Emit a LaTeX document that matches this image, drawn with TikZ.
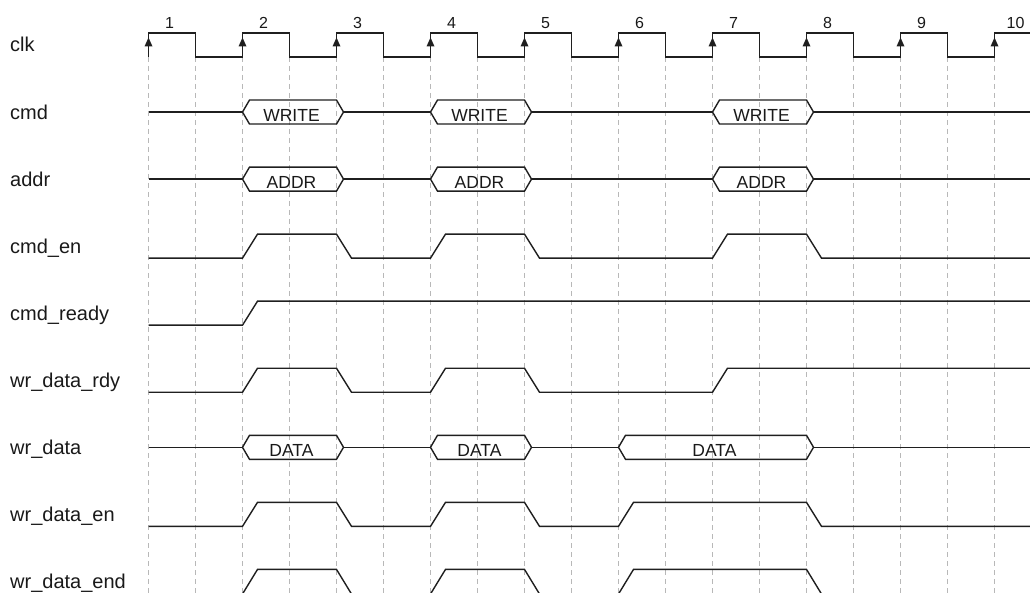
\documentclass[tikz,border=0pt]{standalone}
\usepackage{fontspec}
\setmainfont{Liberation Sans}
\def\ex#1{148.5+94*(#1-1)}
\tikzset{
  sig/.style={line width=1.4pt, draw=black!88, line join=miter},
  gridline/.style={draw=black!28, dash pattern=on 5pt off 4pt, line width=0.9pt},
  lbl/.style={anchor=base west, font=\fontsize{20}{24}\selectfont, inner sep=0pt, text=black!90},
  bustext/.style={anchor=base, font=\fontsize{17.5}{20}\selectfont, inner sep=0pt, text=black!90},
  num/.style={anchor=base, font=\fontsize{16}{18}\selectfont, inner sep=0pt, text=black!90},
  arr/.style={fill=black!88, draw=none},
}
\newcommand\busseg[5]{%
  \draw[sig] ({\ex{#1}},#3) -- ({\ex{#1}+7},#3-12) -- ({\ex{#2}},#3-12) -- ({\ex{#2}+7},#3)
     -- ({\ex{#2}},#3+12) -- ({\ex{#1}+7},#3+12) -- cycle;
  \node[bustext] (#5) at ({(\ex{#1}+\ex{#2})/2+2},#3+9.5) {#4};
}
\begin{document}
\begin{tikzpicture}[x=1pt,y=-1pt]
\useasboundingbox (0,0) rectangle (1030,593);
\clip (0,0) rectangle (1030,593);
% grid
\foreach \k in {0,...,18} \draw[gridline] ({148.5+47*\k},57) -- ({148.5+47*\k},593);
% labels
\node[lbl] (lclk) at (10,52) {clk};
\node[lbl] (lcmd) at (10,119.05) {cmd};
\node[lbl] (laddr) at (10,186.1) {addr};
\node[lbl] (lcmden) at (10,253.15) {cmd\_en};
\node[lbl] (lcmdready) at (10,320.2) {cmd\_ready};
\node[lbl] (lwrrdy) at (10,387.25) {wr\_data\_rdy};
\node[lbl] (lwrdata) at (10,454.3) {wr\_data};
\node[lbl] (lwren) at (10,521.35) {wr\_data\_en};
\node[lbl] (lwrend) at (10,588.4) {wr\_data\_end};
% clock
\draw[sig] (148.5,57) \foreach \k in {1,...,9} { -- ({\ex\k},33) -- ({\ex\k+47},33) -- ({\ex\k+47},57) -- ({\ex\k+94},57) } -- (994.5,33) -- (1030,33);
\foreach \k in {1,...,10} {
  \fill[arr] ({\ex\k},37.5) -- ({\ex\k-4},46.5) -- ({\ex\k+4},46.5) -- cycle;
  \node[num] (n\k) at ({\ex\k+21},29) {\k};
}
% cmd
\draw[sig] (148.5,112.05) -- ({\ex2},112.05);
\draw[sig] ({\ex3+7},112.05) -- ({\ex4},112.05);
\draw[sig] ({\ex5+7},112.05) -- ({\ex7},112.05);
\draw[sig] ({\ex8+7},112.05) -- (1030,112.05);
\busseg{2}{3}{112.05}{WRITE}{cmdA}
\busseg{4}{5}{112.05}{WRITE}{cmdB}
\busseg{7}{8}{112.05}{WRITE}{cmdC}
% addr
\draw[sig] (148.5,179.1) -- ({\ex2},179.1);
\draw[sig] ({\ex3+7},179.1) -- ({\ex4},179.1);
\draw[sig] ({\ex5+7},179.1) -- ({\ex7},179.1);
\draw[sig] ({\ex8+7},179.1) -- (1030,179.1);
\busseg{2}{3}{179.1}{ADDR}{addrA}
\busseg{4}{5}{179.1}{ADDR}{addrB}
\busseg{7}{8}{179.1}{ADDR}{addrC}
% cmd_en
\begin{scope}[shift={(0,246.15)}]
\draw[sig] (148.5,12) -- ({\ex2},12) -- ({\ex2+15},-12) -- ({\ex3},-12) -- ({\ex3+15},12)
  -- ({\ex4},12) -- ({\ex4+15},-12) -- ({\ex5},-12) -- ({\ex5+15},12)
  -- ({\ex7},12) -- ({\ex7+15},-12) -- ({\ex8},-12) -- ({\ex8+15},12) -- (1030,12);
\end{scope}
% cmd_ready
\begin{scope}[shift={(0,313.2)}]
\draw[sig] (148.5,12) -- ({\ex2},12) -- ({\ex2+15},-12) -- (1030,-12);
\end{scope}
% wr_data_rdy
\begin{scope}[shift={(0,380.25)}]
\draw[sig] (148.5,12) -- ({\ex2},12) -- ({\ex2+15},-12) -- ({\ex3},-12) -- ({\ex3+15},12)
  -- ({\ex4},12) -- ({\ex4+15},-12) -- ({\ex5},-12) -- ({\ex5+15},12)
  -- ({\ex7},12) -- ({\ex7+15},-12) -- (1030,-12);
\end{scope}
% wr_data
\draw[sig] (148.5,447.3) -- ({\ex2},447.3);
\draw[sig] ({\ex3+7},447.3) -- ({\ex4},447.3);
\draw[sig] ({\ex5+7},447.3) -- ({\ex6},447.3);
\draw[sig] ({\ex8+7},447.3) -- (1030,447.3);
\busseg{2}{3}{447.3}{DATA}{dataA}
\busseg{4}{5}{447.3}{DATA}{dataB}
\busseg{6}{8}{447.3}{DATA}{dataC}
% wr_data_en
\begin{scope}[shift={(0,514.35)}]
\draw[sig] (148.5,12) -- ({\ex2},12) -- ({\ex2+15},-12) -- ({\ex3},-12) -- ({\ex3+15},12)
  -- ({\ex4},12) -- ({\ex4+15},-12) -- ({\ex5},-12) -- ({\ex5+15},12)
  -- ({\ex6},12) -- ({\ex6+15},-12) -- ({\ex8},-12) -- ({\ex8+15},12) -- (1030,12);
\end{scope}
% wr_data_end
\begin{scope}[shift={(0,581.4)}]
\draw[sig] (148.5,12.6) -- ({\ex2},12.6) -- ({\ex2+15},-12) -- ({\ex3},-12) -- ({\ex3+15},12.6)
  -- ({\ex4},12.6) -- ({\ex4+15},-12) -- ({\ex5},-12) -- ({\ex5+15},12.6)
  -- ({\ex6},12.6) -- ({\ex6+15},-12) -- ({\ex8},-12) -- ({\ex8+15},12.6) -- (1030,12.6);
\end{scope}
\end{tikzpicture}
\end{document}
